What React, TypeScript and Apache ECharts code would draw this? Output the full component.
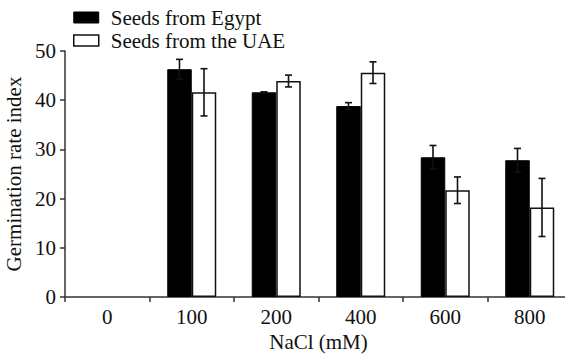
import React, { useEffect, useRef } from "react";
import * as echarts from "echarts";

const categories = ["0", "100", "200", "400", "600", "800"];
const egyptValues = [0, 46.3, 41.6, 38.8, 28.4, 27.8];
const egyptErrors = [0, 2.0, 0.1, 0.7, 2.4, 2.4];
const uaeValues = [0, 41.6, 43.9, 45.6, 21.7, 18.2];
const uaeErrors = [0, 4.8, 1.2, 2.2, 2.7, 5.9];

const FONT = "'Liberation Serif', 'Times New Roman', serif";
const GAP = 0.42;
const FS = 21;

function errorSeries(values: number[], errors: number[], side: number) {
  const data = categories
    .map((c, i) => [i, values[i], errors[i]])
    .filter((d) => d[1] > 0);
  return {
    type: "custom",
    z: 10,
    silent: true,
    data,
    encode: { x: 0, y: 1 },
    renderItem: (params: any, api: any) => {
      const idx = api.value(0);
      const v = api.value(1);
      const e = api.value(2);
      const band = api.size([1, 0])[0];
      const bw = (band * (1 - GAP)) / 2;
      const c = api.coord([idx, v]);
      const x = c[0] + (side * bw) / 2;
      const top = api.coord([idx, v + e])[1];
      const bot = api.coord([idx, v - e])[1];
      const cap = 3.5;
      const style = { stroke: "#111", lineWidth: 1.6 };
      return {
        type: "group",
        children: [
          { type: "line", shape: { x1: x, y1: top, x2: x, y2: bot }, style },
          { type: "line", shape: { x1: x - cap, y1: top, x2: x + cap, y2: top }, style },
          { type: "line", shape: { x1: x - cap, y1: bot, x2: x + cap, y2: bot }, style },
        ],
      };
    },
  };
}

const toBar = (arr: number[]) => arr.map((v) => (v > 0 ? v : "-"));

export default function App() {
  const ref = useRef<HTMLDivElement>(null);
  useEffect(() => {
    const chart = echarts.init(ref.current!, null, { renderer: "svg" });
    chart.setOption({
      animation: false,
      textStyle: { fontFamily: FONT },
      legend: {
        left: 73,
        top: 6,
        padding: 0,
        orient: "vertical",
        itemWidth: 25,
        itemHeight: 11,
        itemGap: 0,
        icon: "rect",
        textStyle: {
          fontFamily: FONT,
          fontSize: FS,
          lineHeight: 23,
          color: "#111",
          padding: [0, 0, 0, 7],
        },
        data: [
          { name: "Seeds from Egypt", itemStyle: { color: "#000", borderColor: "#000", borderWidth: 1 } },
          { name: "Seeds from the UAE", itemStyle: { color: "#fff", borderColor: "#111", borderWidth: 1.5 } },
        ],
      },
      grid: {
        left: 65,
        top: 51,
        right: -7,
        bottom: 57,
        containLabel: false,
        outerBoundsMode: "none",
      },
      xAxis: {
        type: "category",
        data: categories,
        name: "NaCl (mM)",
        nameLocation: "middle",
        nameGap: 34,
        nameTextStyle: { fontFamily: FONT, fontSize: FS, color: "#111" },
        axisLine: { lineStyle: { color: "#333", width: 1.5 } },
        axisTick: { show: true, length: 5, lineStyle: { color: "#333", width: 1.5 } },
        axisLabel: { fontFamily: FONT, fontSize: FS, color: "#111", margin: 9 },
      },
      yAxis: {
        type: "value",
        min: 0,
        max: 50,
        interval: 10,
        name: "Germination rate index",
        nameLocation: "middle",
        nameGap: 34,
        nameTextStyle: { fontFamily: FONT, fontSize: FS, color: "#111" },
        axisLine: { show: true, lineStyle: { color: "#333", width: 1.5 } },
        axisTick: { show: true, length: 5, lineStyle: { color: "#333", width: 1.5 } },
        axisLabel: { fontFamily: FONT, fontSize: FS, color: "#111", margin: 9 },
        splitLine: { show: false },
      },
      series: [
        {
          name: "Seeds from Egypt",
          type: "bar",
          data: toBar(egyptValues),
          barGap: "0%",
          barCategoryGap: "42%",
          itemStyle: { color: "#000", borderColor: "#000", borderWidth: 1 },
        },
        {
          name: "Seeds from the UAE",
          type: "bar",
          data: toBar(uaeValues),
          itemStyle: { color: "#fff", borderColor: "#111", borderWidth: 1.5 },
        },
        errorSeries(egyptValues, egyptErrors, -1),
        errorSeries(uaeValues, uaeErrors, 1),
      ],
    });
    return () => chart.dispose();
  }, []);
  return (
    <div
      ref={ref}
      style={{ position: "fixed", left: 0, top: 0, width: 565, height: 354, background: "#fff" }}
    />
  );
}
